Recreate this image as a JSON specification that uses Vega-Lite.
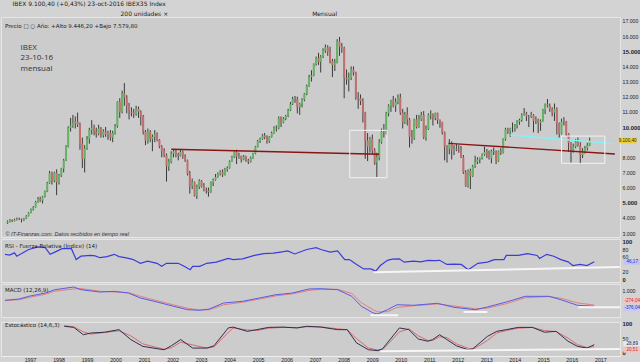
{
"$schema": "https://vega.github.io/schema/vega-lite/v6.json",
"background": "#d3d3d3",
"padding": 0,
"spacing": 0,
"title": {"text": "IBEX   9.100,40 (+0,43%)  23-oct-2016  IBEX35 Index", "subtitle": "\u200b\u2003\u2003\u2003\u2003\u2003\u2003\u2003\u2003\u2003\u2003\u2003\u2003\u2003\u2003\u2003\u2003\u2003\u2003200 unidades  \u00d7\u2003\u2003\u2003\u2003\u2003\u2003\u2003\u2003\u2003\u2003\u2003\u2003\u2003\u2003\u2003\u2003\u2003\u2003\u2003\u2003\u2003\u2003\u2003\u2003Mensual", "anchor": "start", "dx": 12, "fontSize": 6, "fontWeight": "normal", "color": "#222", "font": "DejaVu Sans", "subtitleFont": "DejaVu Sans", "subtitleFontSize": 6, "subtitleColor": "#222", "subtitlePadding": 4, "offset": 0},
"config": {
  "view": {"fill": "#cccccc", "stroke": "#e6e6e6", "strokeWidth": 1},
  "concat": {"spacing": 0},
  "axis": {"labelFont": "Liberation Sans", "labelFontSize": 5.5, "labelColor": "#222", "grid": false, "ticks": false, "domain": false, "labelPadding": 2, "labelOverlap": false, "tickCount": 60},
  "title": {"font": "DejaVu Sans"}
},
"datasets": {
"px": [
{"t":"1996-01-15","o":3650,"h":3830,"l":3600,"c":3750},{"t":"1996-02-15","o":3750,"h":3920,"l":3700,"c":3850},{"t":"1996-03-15","o":3850,"h":3900,"l":3720,"c":3800},{"t":"1996-04-15","o":3800,"h":3950,"l":3760,"c":3880},{"t":"1996-05-15","o":3880,"h":4020,"l":3830,"c":3950},{"t":"1996-06-15","o":3950,"h":4010,"l":3850,"c":3900},{"t":"1996-07-15","o":3900,"h":3960,"l":3700,"c":3850},{"t":"1996-08-15","o":3850,"h":4000,"l":3800,"c":3950},{"t":"1996-09-15","o":3950,"h":4180,"l":3920,"c":4120},{"t":"1996-10-15","o":4120,"h":4380,"l":4090,"c":4330},{"t":"1996-11-15","o":4330,"h":4620,"l":4300,"c":4560},{"t":"1996-12-15","o":4560,"h":4780,"l":4480,"c":4700},
{"t":"1997-01-15","o":4700,"h":5120,"l":4680,"c":5050},{"t":"1997-02-15","o":5050,"h":5380,"l":4990,"c":5250},{"t":"1997-03-15","o":5250,"h":5400,"l":5050,"c":5150},{"t":"1997-04-15","o":5150,"h":5450,"l":4950,"c":5400},{"t":"1997-05-15","o":5400,"h":5800,"l":5350,"c":5750},{"t":"1997-06-15","o":5750,"h":6380,"l":5700,"c":6300},{"t":"1997-07-15","o":6300,"h":7100,"l":6250,"c":6950},{"t":"1997-08-15","o":6950,"h":7050,"l":6200,"c":6450},{"t":"1997-09-15","o":6450,"h":7050,"l":6350,"c":6980},{"t":"1997-10-15","o":6980,"h":7200,"l":5500,"c":6350},{"t":"1997-11-15","o":6350,"h":6900,"l":6200,"c":6800},{"t":"1997-12-15","o":6800,"h":7300,"l":6700,"c":7250},
{"t":"1998-01-15","o":7250,"h":7900,"l":7000,"c":7800},{"t":"1998-02-15","o":7800,"h":8800,"l":7750,"c":8700},{"t":"1998-03-15","o":8700,"h":10050,"l":8650,"c":9950},{"t":"1998-04-15","o":9950,"h":10600,"l":9700,"c":10100},{"t":"1998-05-15","o":10100,"h":10800,"l":9950,"c":10250},{"t":"1998-06-15","o":10250,"h":10700,"l":9900,"c":10350},{"t":"1998-07-15","o":10350,"h":10950,"l":10000,"c":10150},{"t":"1998-08-15","o":10150,"h":10300,"l":8500,"c":8900},{"t":"1998-09-15","o":8900,"h":9300,"l":7300,"c":7900},{"t":"1998-10-15","o":7900,"h":8800,"l":7000,"c":8600},{"t":"1998-11-15","o":8600,"h":9400,"l":8500,"c":9200},{"t":"1998-12-15","o":9200,"h":9950,"l":8900,"c":9800},
{"t":"1999-01-15","o":9800,"h":10450,"l":9500,"c":9950},{"t":"1999-02-15","o":9950,"h":10150,"l":9450,"c":9700},{"t":"1999-03-15","o":9700,"h":9950,"l":9300,"c":9550},{"t":"1999-04-15","o":9550,"h":10150,"l":9450,"c":9900},{"t":"1999-05-15","o":9900,"h":10000,"l":9300,"c":9450},{"t":"1999-06-15","o":9450,"h":9850,"l":9300,"c":9700},{"t":"1999-07-15","o":9700,"h":10000,"l":9350,"c":9500},{"t":"1999-08-15","o":9500,"h":9750,"l":9150,"c":9600},{"t":"1999-09-15","o":9600,"h":9800,"l":9100,"c":9300},{"t":"1999-10-15","o":9300,"h":9750,"l":9000,"c":9600},{"t":"1999-11-15","o":9600,"h":10200,"l":9500,"c":10050},{"t":"1999-12-15","o":10050,"h":11700,"l":9950,"c":11650},
{"t":"2000-01-15","o":11650,"h":11900,"l":10600,"c":11000},{"t":"2000-02-15","o":11000,"h":12400,"l":10900,"c":12200},{"t":"2000-03-15","o":12200,"h":12900,"l":11400,"c":11950},{"t":"2000-04-15","o":11950,"h":12100,"l":10900,"c":11400},{"t":"2000-05-15","o":11400,"h":11600,"l":10500,"c":11000},{"t":"2000-06-15","o":11000,"h":11300,"l":10700,"c":10950},{"t":"2000-07-15","o":10950,"h":11200,"l":10600,"c":10850},{"t":"2000-08-15","o":10850,"h":11400,"l":10750,"c":11200},{"t":"2000-09-15","o":11200,"h":11350,"l":10600,"c":11000},{"t":"2000-10-15","o":11000,"h":11100,"l":10100,"c":10700},{"t":"2000-11-15","o":10700,"h":10800,"l":9500,"c":9700},{"t":"2000-12-15","o":9700,"h":9800,"l":8800,"c":9100},
{"t":"2001-01-15","o":9100,"h":9900,"l":8900,"c":9700},{"t":"2001-02-15","o":9700,"h":9800,"l":9000,"c":9200},{"t":"2001-03-15","o":9200,"h":9500,"l":8400,"c":9350},{"t":"2001-04-15","o":9350,"h":9800,"l":9000,"c":9500},{"t":"2001-05-15","o":9500,"h":9650,"l":9050,"c":9150},{"t":"2001-06-15","o":9150,"h":9200,"l":8600,"c":8700},{"t":"2001-07-15","o":8700,"h":8800,"l":8000,"c":8400},{"t":"2001-08-15","o":8400,"h":8600,"l":8000,"c":8150},{"t":"2001-09-15","o":8150,"h":8250,"l":6400,"c":7400},{"t":"2001-10-15","o":7400,"h":7900,"l":7100,"c":7700},{"t":"2001-11-15","o":7700,"h":8400,"l":7600,"c":8250},{"t":"2001-12-15","o":8250,"h":8500,"l":8000,"c":8400},
{"t":"2002-01-15","o":8400,"h":8550,"l":8000,"c":8200},{"t":"2002-02-15","o":8200,"h":8300,"l":7800,"c":8100},{"t":"2002-03-15","o":8100,"h":8500,"l":8050,"c":8350},{"t":"2002-04-15","o":8350,"h":8450,"l":7900,"c":8050},{"t":"2002-05-15","o":8050,"h":8200,"l":7700,"c":7800},{"t":"2002-06-15","o":7800,"h":7850,"l":6800,"c":6900},{"t":"2002-07-15","o":6900,"h":7100,"l":5600,"c":6100},{"t":"2002-08-15","o":6100,"h":6600,"l":5900,"c":6350},{"t":"2002-09-15","o":6350,"h":6400,"l":5400,"c":5450},{"t":"2002-10-15","o":5450,"h":6200,"l":5250,"c":6050},{"t":"2002-11-15","o":6050,"h":6550,"l":5900,"c":6450},{"t":"2002-12-15","o":6450,"h":6500,"l":6000,"c":6050},
{"t":"2003-01-15","o":6050,"h":6300,"l":5750,"c":5850},{"t":"2003-02-15","o":5850,"h":6000,"l":5600,"c":5800},{"t":"2003-03-15","o":5800,"h":6000,"l":5400,"c":5700},{"t":"2003-04-15","o":5700,"h":6400,"l":5650,"c":6350},{"t":"2003-05-15","o":6350,"h":6600,"l":6100,"c":6500},{"t":"2003-06-15","o":6500,"h":6900,"l":6450,"c":6700},{"t":"2003-07-15","o":6700,"h":7000,"l":6650,"c":6900},{"t":"2003-08-15","o":6900,"h":7150,"l":6800,"c":7050},{"t":"2003-09-15","o":7050,"h":7200,"l":6700,"c":6850},{"t":"2003-10-15","o":6850,"h":7300,"l":6800,"c":7200},{"t":"2003-11-15","o":7200,"h":7400,"l":7050,"c":7300},{"t":"2003-12-15","o":7300,"h":7800,"l":7250,"c":7750},
{"t":"2004-01-15","o":7750,"h":8100,"l":7700,"c":8000},{"t":"2004-02-15","o":8000,"h":8400,"l":7950,"c":8350},{"t":"2004-03-15","o":8350,"h":8500,"l":7550,"c":8050},{"t":"2004-04-15","o":8050,"h":8300,"l":7900,"c":8100},{"t":"2004-05-15","o":8100,"h":8100,"l":7650,"c":7850},{"t":"2004-06-15","o":7850,"h":8150,"l":7800,"c":8050},{"t":"2004-07-15","o":8050,"h":8100,"l":7700,"c":7800},{"t":"2004-08-15","o":7800,"h":7900,"l":7550,"c":7700},{"t":"2004-09-15","o":7700,"h":8050,"l":7650,"c":7950},{"t":"2004-10-15","o":7950,"h":8300,"l":7900,"c":8250},{"t":"2004-11-15","o":8250,"h":8750,"l":8200,"c":8700},{"t":"2004-12-15","o":8700,"h":9150,"l":8650,"c":9080},
{"t":"2005-01-15","o":9080,"h":9300,"l":8950,"c":9200},{"t":"2005-02-15","o":9200,"h":9550,"l":9150,"c":9450},{"t":"2005-03-15","o":9450,"h":9600,"l":9200,"c":9300},{"t":"2005-04-15","o":9300,"h":9450,"l":8900,"c":9050},{"t":"2005-05-15","o":9050,"h":9400,"l":8950,"c":9350},{"t":"2005-06-15","o":9350,"h":9700,"l":9300,"c":9600},{"t":"2005-07-15","o":9600,"h":10050,"l":9550,"c":9950},{"t":"2005-08-15","o":9950,"h":10100,"l":9700,"c":9900},{"t":"2005-09-15","o":9900,"h":10700,"l":9850,"c":10600},{"t":"2005-10-15","o":10600,"h":10700,"l":10000,"c":10300},{"t":"2005-11-15","o":10300,"h":10650,"l":10250,"c":10550},{"t":"2005-12-15","o":10550,"h":10800,"l":10450,"c":10730},
{"t":"2006-01-15","o":10730,"h":11200,"l":10650,"c":11100},{"t":"2006-02-15","o":11100,"h":11650,"l":11050,"c":11500},{"t":"2006-03-15","o":11500,"h":12000,"l":11450,"c":11850},{"t":"2006-04-15","o":11850,"h":12050,"l":11600,"c":11850},{"t":"2006-05-15","o":11850,"h":12000,"l":10900,"c":11300},{"t":"2006-06-15","o":11300,"h":11600,"l":10800,"c":11550},{"t":"2006-07-15","o":11550,"h":11900,"l":11300,"c":11800},{"t":"2006-08-15","o":11800,"h":12250,"l":11700,"c":12200},{"t":"2006-09-15","o":12200,"h":12800,"l":12100,"c":12700},{"t":"2006-10-15","o":12700,"h":13450,"l":12650,"c":13300},{"t":"2006-11-15","o":13300,"h":13750,"l":13000,"c":13400},{"t":"2006-12-15","o":13400,"h":14200,"l":13350,"c":14150},
{"t":"2007-01-15","o":14150,"h":14650,"l":14050,"c":14550},{"t":"2007-02-15","o":14550,"h":14900,"l":14100,"c":14300},{"t":"2007-03-15","o":14300,"h":14750,"l":13600,"c":14650},{"t":"2007-04-15","o":14650,"h":15200,"l":14550,"c":15050},{"t":"2007-05-15","o":15050,"h":15450,"l":14900,"c":15250},{"t":"2007-06-15","o":15250,"h":15400,"l":14700,"c":14950},{"t":"2007-07-15","o":14950,"h":15300,"l":14200,"c":14350},{"t":"2007-08-15","o":14350,"h":14500,"l":13300,"c":14100},{"t":"2007-09-15","o":14100,"h":14500,"l":13700,"c":14250},{"t":"2007-10-15","o":14250,"h":15800,"l":14200,"c":15650},{"t":"2007-11-15","o":15650,"h":15950,"l":14700,"c":15300},{"t":"2007-12-15","o":15300,"h":15550,"l":14900,"c":15180},
{"t":"2008-01-15","o":15180,"h":15300,"l":11900,"c":13250},{"t":"2008-02-15","o":13250,"h":13800,"l":12800,"c":13150},{"t":"2008-03-15","o":13150,"h":13600,"l":12350,"c":13250},{"t":"2008-04-15","o":13250,"h":14000,"l":13100,"c":13800},{"t":"2008-05-15","o":13800,"h":14000,"l":13400,"c":13600},{"t":"2008-06-15","o":13600,"h":13650,"l":11800,"c":11950},{"t":"2008-07-15","o":11950,"h":12300,"l":11200,"c":11900},{"t":"2008-08-15","o":11900,"h":12150,"l":11450,"c":11700},{"t":"2008-09-15","o":11700,"h":11900,"l":10300,"c":10950},{"t":"2008-10-15","o":10950,"h":11000,"l":7900,"c":9100},{"t":"2008-11-15","o":9100,"h":9600,"l":7750,"c":8700},{"t":"2008-12-15","o":8700,"h":9350,"l":8300,"c":9200},
{"t":"2009-01-15","o":9200,"h":9500,"l":8200,"c":8450},{"t":"2009-02-15","o":8450,"h":8600,"l":7500,"c":7650},{"t":"2009-03-15","o":7650,"h":8300,"l":6700,"c":8000},{"t":"2009-04-15","o":8000,"h":9200,"l":7800,"c":9000},{"t":"2009-05-15","o":9000,"h":9900,"l":8900,"c":9700},{"t":"2009-06-15","o":9700,"h":10200,"l":9300,"c":9800},{"t":"2009-07-15","o":9800,"h":11000,"l":9500,"c":10900},{"t":"2009-08-15","o":10900,"h":11500,"l":10700,"c":11400},{"t":"2009-09-15","o":11400,"h":11800,"l":11000,"c":11750},{"t":"2009-10-15","o":11750,"h":12050,"l":11300,"c":11400},{"t":"2009-11-15","o":11400,"h":11900,"l":11000,"c":11650},{"t":"2009-12-15","o":11650,"h":12150,"l":11500,"c":11950},
{"t":"2010-01-15","o":11950,"h":12200,"l":10800,"c":10950},{"t":"2010-02-15","o":10950,"h":11200,"l":9900,"c":10300},{"t":"2010-03-15","o":10300,"h":11000,"l":10200,"c":10850},{"t":"2010-04-15","o":10850,"h":11300,"l":10100,"c":10500},{"t":"2010-05-15","o":10500,"h":10600,"l":8650,"c":9350},{"t":"2010-06-15","o":9350,"h":9800,"l":8900,"c":9250},{"t":"2010-07-15","o":9250,"h":10550,"l":9150,"c":10500},{"t":"2010-08-15","o":10500,"h":10800,"l":9900,"c":10000},{"t":"2010-09-15","o":10000,"h":10800,"l":9950,"c":10500},{"t":"2010-10-15","o":10500,"h":11000,"l":10400,"c":10800},{"t":"2010-11-15","o":10800,"h":11050,"l":9200,"c":9300},{"t":"2010-12-15","o":9300,"h":10100,"l":9100,"c":9860},
{"t":"2011-01-15","o":9860,"h":10900,"l":9800,"c":10800},{"t":"2011-02-15","o":10800,"h":11100,"l":10500,"c":10850},{"t":"2011-03-15","o":10850,"h":10900,"l":10100,"c":10600},{"t":"2011-04-15","o":10600,"h":10950,"l":10450,"c":10900},{"t":"2011-05-15","o":10900,"h":10950,"l":10200,"c":10450},{"t":"2011-06-15","o":10450,"h":10500,"l":9950,"c":10350},{"t":"2011-07-15","o":10350,"h":10300,"l":9500,"c":9650},{"t":"2011-08-15","o":9650,"h":9700,"l":7800,"c":8700},{"t":"2011-09-15","o":8700,"h":8800,"l":7650,"c":8550},{"t":"2011-10-15","o":8550,"h":9200,"l":8200,"c":8950},{"t":"2011-11-15","o":8950,"h":9050,"l":7850,"c":8450},{"t":"2011-12-15","o":8450,"h":8800,"l":8150,"c":8560},
{"t":"2012-01-15","o":8560,"h":8900,"l":8400,"c":8500},{"t":"2012-02-15","o":8500,"h":8800,"l":8300,"c":8450},{"t":"2012-03-15","o":8450,"h":8750,"l":7950,"c":8000},{"t":"2012-04-15","o":8000,"h":8150,"l":6900,"c":7000},{"t":"2012-05-15","o":7000,"h":7150,"l":6050,"c":6100},{"t":"2012-06-15","o":6100,"h":7200,"l":6000,"c":7100},{"t":"2012-07-15","o":7100,"h":7250,"l":5900,"c":6750},{"t":"2012-08-15","o":6750,"h":7500,"l":6700,"c":7400},{"t":"2012-09-15","o":7400,"h":8100,"l":7300,"c":7700},{"t":"2012-10-15","o":7700,"h":8000,"l":7550,"c":7850},{"t":"2012-11-15","o":7850,"h":8000,"l":7600,"c":7950},{"t":"2012-12-15","o":7950,"h":8250,"l":7850,"c":8170},
{"t":"2013-01-15","o":8170,"h":8700,"l":8100,"c":8350},{"t":"2013-02-15","o":8350,"h":8550,"l":7950,"c":8250},{"t":"2013-03-15","o":8250,"h":8450,"l":7850,"c":7950},{"t":"2013-04-15","o":7950,"h":8500,"l":7600,"c":8400},{"t":"2013-05-15","o":8400,"h":8650,"l":8150,"c":8350},{"t":"2013-06-15","o":8350,"h":8450,"l":7550,"c":7760},{"t":"2013-07-15","o":7760,"h":8450,"l":7700,"c":8400},{"t":"2013-08-15","o":8400,"h":8600,"l":8150,"c":8300},{"t":"2013-09-15","o":8300,"h":9250,"l":8250,"c":9200},{"t":"2013-10-15","o":9200,"h":9950,"l":9100,"c":9850},{"t":"2013-11-15","o":9850,"h":9950,"l":9550,"c":9700},{"t":"2013-12-15","o":9700,"h":9950,"l":9350,"c":9900},
{"t":"2014-01-15","o":9900,"h":10300,"l":9650,"c":9900},{"t":"2014-02-15","o":9900,"h":10200,"l":9700,"c":10100},{"t":"2014-03-15","o":10100,"h":10450,"l":9900,"c":10350},{"t":"2014-04-15","o":10350,"h":10550,"l":10150,"c":10450},{"t":"2014-05-15","o":10450,"h":10900,"l":10350,"c":10800},{"t":"2014-06-15","o":10800,"h":11250,"l":10750,"c":10900},{"t":"2014-07-15","o":10900,"h":11000,"l":10400,"c":10700},{"t":"2014-08-15","o":10700,"h":10800,"l":10000,"c":10700},{"t":"2014-09-15","o":10700,"h":11000,"l":10600,"c":10800},{"t":"2014-10-15","o":10800,"h":10850,"l":9650,"c":10400},{"t":"2014-11-15","o":10400,"h":10700,"l":10200,"c":10500},{"t":"2014-12-15","o":10500,"h":10550,"l":9600,"c":10280},
{"t":"2015-01-15","o":10280,"h":10500,"l":9750,"c":10400},{"t":"2015-02-15","o":10400,"h":11200,"l":10350,"c":11150},{"t":"2015-03-15","o":11150,"h":11550,"l":10850,"c":11500},{"t":"2015-04-15","o":11500,"h":11850,"l":11300,"c":11400},{"t":"2015-05-15","o":11400,"h":11550,"l":11000,"c":11200},{"t":"2015-06-15","o":11200,"h":11300,"l":10700,"c":10950},{"t":"2015-07-15","o":10950,"h":11550,"l":10400,"c":11200},{"t":"2015-08-15","o":11200,"h":11300,"l":9500,"c":10250},{"t":"2015-09-15","o":10250,"h":10300,"l":9300,"c":9550},{"t":"2015-10-15","o":9550,"h":10550,"l":9500,"c":10350},{"t":"2015-11-15","o":10350,"h":10650,"l":10100,"c":10350},{"t":"2015-12-15","o":10350,"h":10400,"l":9400,"c":9550},
{"t":"2016-01-15","o":9550,"h":9600,"l":8350,"c":8950},{"t":"2016-02-15","o":8950,"h":9000,"l":7650,"c":8450},{"t":"2016-03-15","o":8450,"h":8900,"l":8300,"c":8700},{"t":"2016-04-15","o":8700,"h":9200,"l":8600,"c":9050},{"t":"2016-05-15","o":9050,"h":9300,"l":8700,"c":8750},{"t":"2016-06-15","o":8750,"h":9000,"l":7550,"c":8150},{"t":"2016-07-15","o":8150,"h":8600,"l":7950,"c":8400},{"t":"2016-08-15","o":8400,"h":8750,"l":8250,"c":8600},{"t":"2016-09-15","o":8600,"h":8950,"l":8450,"c":8800},{"t":"2016-10-15","o":8800,"h":9300,"l":8750,"c":9100}
],
"trend": [
{"id":"r1","t":"2001-11-15","v":8530},{"id":"r1","t":"2009-04-15","v":8196},
{"id":"r2","t":"2011-10-05","v":8922},{"id":"r2","t":"2017-09-08","v":8213},
{"id":"cy","t":"2013-12-15","v":9470},{"id":"cy","t":"2017-08-28","v":8900}
],
"boxes": [
{"t1":"2008-03-28","t2":"2009-07-25","v1":6650,"v2":9780},
{"t1":"2015-10-15","t2":"2017-05-01","v1":7600,"v2":9400}
],
"tags": [
{"id":"p","t":"2016-10-15","v":9100,"lab":"9.100,40"},
{"id":"r","t":"2016-10-15","v":46,"lab":"46,17"},
{"id":"ms","t":"2016-10-15","v":-274,"lab":"-274,04"},
{"id":"mm","t":"2016-10-15","v":-376,"lab":"-376,04"},
{"id":"sk","t":"2016-10-15","v":27,"lab":"28,89"},
{"id":"sd","t":"2016-10-15","v":20,"lab":"20,51"}
],
"rsi": [
{"t":"1996-02-15","v":66},{"t":"1996-04-15","v":64},{"t":"1996-06-15","v":70},{"t":"1996-07-15","v":61},{"t":"1996-09-15","v":68},{"t":"1996-12-15","v":79},{"t":"1997-04-15","v":86},{"t":"1997-07-15","v":84},{"t":"1997-09-15","v":66},{"t":"1997-11-15","v":72},{"t":"1998-02-15","v":81},{"t":"1998-06-15","v":81},{"t":"1998-08-15","v":52},{"t":"1998-10-15","v":61},{"t":"1999-02-15","v":63},{"t":"1999-04-15","v":62},{"t":"1999-06-15","v":57},{"t":"1999-09-15","v":60},{"t":"1999-12-15","v":66},{"t":"2000-02-15","v":60},{"t":"2000-04-15","v":58},{"t":"2000-06-15","v":55},{"t":"2000-08-15","v":52},{"t":"2000-11-15","v":42},{"t":"2001-02-15","v":48},{"t":"2001-06-15","v":42},{"t":"2001-08-15","v":34},{"t":"2001-10-15","v":42},{"t":"2002-03-15","v":42},{"t":"2002-06-15","v":32},{"t":"2002-08-15","v":25},{"t":"2002-09-15","v":34},{"t":"2002-12-15","v":34},{"t":"2003-03-15","v":42},{"t":"2003-07-15","v":45},{"t":"2003-12-15","v":55},{"t":"2004-02-15","v":52},{"t":"2004-06-15","v":54},{"t":"2004-11-15","v":63},{"t":"2005-03-15","v":68},{"t":"2005-07-15","v":69},{"t":"2005-10-15","v":72},{"t":"2006-01-15","v":75},{"t":"2006-04-15","v":67},{"t":"2006-09-15","v":79},{"t":"2007-01-15","v":84},{"t":"2007-03-15","v":79},{"t":"2007-07-15","v":72},{"t":"2007-10-15","v":75},{"t":"2008-01-15","v":52},{"t":"2008-03-15","v":52},{"t":"2008-06-15","v":39},{"t":"2008-09-15","v":27},{"t":"2008-12-15","v":27},{"t":"2009-02-15","v":21},{"t":"2009-04-15","v":36},{"t":"2009-07-15","v":50},{"t":"2009-09-15","v":53},{"t":"2009-12-15","v":54},{"t":"2010-02-15","v":45},{"t":"2010-06-15","v":48},{"t":"2010-09-15","v":46},{"t":"2010-12-15","v":50},{"t":"2011-03-15","v":49},{"t":"2011-05-15","v":50},{"t":"2011-08-15","v":39},{"t":"2011-11-15","v":40},{"t":"2012-02-15","v":39},{"t":"2012-05-15","v":25},{"t":"2012-09-15","v":42},{"t":"2013-01-15","v":45},{"t":"2013-04-15","v":52},{"t":"2013-08-15","v":52},{"t":"2013-09-15","v":63},{"t":"2014-02-15","v":63},{"t":"2014-06-15","v":68},{"t":"2014-10-15","v":63},{"t":"2014-11-15","v":55},{"t":"2015-02-15","v":66},{"t":"2015-05-15","v":61},{"t":"2015-08-15","v":52},{"t":"2015-11-15","v":46},{"t":"2016-01-15","v":36},{"t":"2016-04-15","v":39},{"t":"2016-07-15","v":36},{"t":"2016-10-15","v":46}
],
"macd": [
{"t":"1996-02-15","m":150,"s":120},{"t":"1996-08-15","m":265,"s":200},{"t":"1996-12-15","m":500,"s":400},{"t":"1997-07-15","m":790,"s":680},{"t":"1997-11-15","m":1085,"s":950},{"t":"1998-07-15","m":1320,"s":1150},{"t":"1998-10-15","m":1085,"s":1180},{"t":"1999-06-15","m":880,"s":950},{"t":"1999-12-15","m":940,"s":880},{"t":"2000-06-15","m":790,"s":830},{"t":"2000-11-15","m":350,"s":500},{"t":"2001-06-15","m":0,"s":120},{"t":"2002-01-15","m":-380,"s":-260},{"t":"2002-07-15","m":-680,"s":-560},{"t":"2002-12-15","m":-730,"s":-700},{"t":"2003-04-15","m":-620,"s":-690},{"t":"2003-10-15","m":-90,"s":-250},{"t":"2004-06-15","m":60,"s":-20},{"t":"2005-01-15","m":350,"s":250},{"t":"2005-08-15","m":640,"s":540},{"t":"2006-03-15","m":790,"s":720},{"t":"2006-10-15","m":1150,"s":1020},{"t":"2007-03-15","m":1170,"s":1120},{"t":"2007-10-15","m":1085,"s":1120},{"t":"2008-04-15","m":500,"s":750},{"t":"2008-08-15","m":-380,"s":-60},{"t":"2009-01-15","m":-970,"s":-700},{"t":"2009-03-15","m":-1060,"s":-880},{"t":"2009-07-15","m":-680,"s":-850},{"t":"2009-11-15","m":-240,"s":-480},{"t":"2010-06-15","m":-290,"s":-330},{"t":"2011-04-15","m":-115,"s":-170},{"t":"2011-11-15","m":-470,"s":-350},{"t":"2012-08-15","m":-680,"s":-600},{"t":"2013-01-15","m":-440,"s":-540},{"t":"2013-09-15","m":0,"s":-150},{"t":"2014-05-15","m":500,"s":380},{"t":"2015-03-15","m":500,"s":480},{"t":"2015-08-15","m":200,"s":330},{"t":"2016-03-15","m":-290,"s":-80},{"t":"2016-10-15","m":-376,"s":-274}
],
"stoch": [
{"t":"1998-03-15","k":92,"d":94},{"t":"1998-07-15","k":88,"d":90},{"t":"1998-11-15","k":62,"d":72},{"t":"1999-02-15","k":68,"d":64},{"t":"1999-08-15","k":71,"d":70},{"t":"2000-02-15","k":80,"d":76},{"t":"2000-07-15","k":45,"d":58},{"t":"2000-12-15","k":21,"d":30},{"t":"2001-06-15","k":13,"d":17},{"t":"2001-09-15","k":9,"d":11},{"t":"2001-12-15","k":23,"d":16},{"t":"2002-04-15","k":45,"d":36},{"t":"2002-09-15","k":15,"d":26},{"t":"2003-03-15","k":15,"d":15},{"t":"2003-06-15","k":23,"d":19},{"t":"2003-12-15","k":86,"d":70},{"t":"2004-02-15","k":89,"d":86},{"t":"2004-08-15","k":74,"d":79},{"t":"2004-12-15","k":80,"d":77},{"t":"2005-05-15","k":88,"d":85},{"t":"2005-11-15","k":89,"d":88},{"t":"2006-05-15","k":86,"d":87},{"t":"2006-09-15","k":92,"d":90},{"t":"2007-03-15","k":89,"d":90},{"t":"2007-10-15","k":80,"d":83},{"t":"2008-02-15","k":80,"d":80},{"t":"2008-06-15","k":33,"d":48},{"t":"2008-11-15","k":9,"d":15},{"t":"2009-03-15","k":6,"d":8},{"t":"2009-05-15","k":13,"d":9},{"t":"2009-12-15","k":86,"d":72},{"t":"2010-04-15","k":80,"d":83},{"t":"2010-08-15","k":47,"d":58},{"t":"2010-12-15","k":39,"d":42},{"t":"2011-02-15","k":45,"d":42},{"t":"2011-05-15","k":62,"d":55},{"t":"2011-08-15","k":45,"d":52},{"t":"2011-12-15","k":23,"d":30},{"t":"2012-05-15","k":9,"d":14},{"t":"2012-07-15","k":13,"d":10},{"t":"2013-01-15","k":56,"d":42},{"t":"2013-05-15","k":74,"d":68},{"t":"2013-09-15","k":80,"d":77},{"t":"2014-02-15","k":88,"d":85},{"t":"2014-08-15","k":88,"d":88},{"t":"2015-01-15","k":71,"d":77},{"t":"2015-06-15","k":74,"d":73},{"t":"2015-11-15","k":39,"d":50},{"t":"2016-03-15","k":21,"d":27},{"t":"2016-07-15","k":15,"d":17},{"t":"2016-10-15","k":27,"d":20}
],
"rsiw": [{"t":"2009-01-20","v":18},{"t":"2017-09-08","v":32}],
"macdw": [
{"id":"a","t":"2008-12-10","v":-1170},{"id":"a","t":"2009-12-01","v":-1170},
{"id":"b","t":"2012-03-15","v":-880},{"id":"b","t":"2013-01-15","v":-880},
{"id":"c","t":"2016-03-25","v":-470},{"id":"c","t":"2017-09-08","v":-470}
],
"stochw": [{"t":"2009-04-15","v":3.5},{"t":"2017-09-08","v":12}]
},
"vconcat": [
{
  "width": 619, "height": 220,
  "title": {"text": "Precio \u25a1 \u25cb   A\u00f1o: +Alto 9.446,20  +Bajo 7.579,80", "anchor": "start", "offset": -12, "dx": 4, "fontSize": 5.5, "fontWeight": "normal", "color": "#222"},
  "layer": [
    {
      "data": {"name": "px"},
      "mark": {"type": "rule", "color": "#3a3a3a", "strokeWidth": 1},
      "encoding": {
        "x": {"field": "t", "type": "temporal", "title": null,
              "scale": {"domain": [{"year":1995,"month":12,"date":26}, {"year":2017,"month":9,"date":10}]},
              "axis": {"orient": "bottom", "labels": false, "title": "\u00a9 IT-Finanzas.com. Datos recibidos en tiempo real", "titleFontStyle": "italic", "titleFontSize": 5.5, "titleFontWeight": "normal", "titleColor": "#333", "titleAnchor": "start", "titleAlign": "left", "titleBaseline": "bottom", "titleX": 4, "titleY": -1}},
        "y": {"field": "l", "type": "quantitative", "title": null,
              "scale": {"domain": [2736, 17264], "nice": false, "zero": false},
              "axis": {"orient": "right", "labelOverlap": false, "tickCount": 60, "values": [3000,4000,5000,6000,7000,8000,10000,11000,12000,13000,14000,15000,16000,17000],
                       "labelExpr": "replace(format(datum.value, ',d'), ',', '.')",
                       "labelFontWeight": {"condition": {"test": "datum.value % 5000 === 0", "value": "bold"}, "value": "normal"},
                       "labelFontSize": {"condition": {"test": "datum.value % 5000 === 0", "value": 5.9}, "value": 5.2}}},
        "y2": {"field": "h"}
      }
    },
    {
      "data": {"name": "px"},
      "mark": {"type": "bar", "size": 2},
      "encoding": {
        "x": {"field": "t", "type": "temporal", "title": null,
              "axis": {"orient": "top", "labels": false, "title": ["IBEX", "23-10-16", "mensual"], "titleFont": "Open Sans", "titleFontSize": 8, "titleFontWeight": "normal", "titleColor": "#333", "titleAngle": 0, "titleAlign": "left", "titleBaseline": "top", "titleX": 19, "titleY": 26, "titleLineHeight": 10.5}},
        "y": {"field": "o", "type": "quantitative", "title": null},
        "y2": {"field": "c"},
        "color": {"condition": {"test": "datum.c >= datum.o", "value": "#64b464"}, "value": "#c26e6e"}
      }
    },
    {
      "data": {"name": "trend"},
      "mark": {"type": "line"},
      "encoding": {
        "x": {"field": "t", "type": "temporal", "axis": null},
        "y": {"field": "v", "type": "quantitative", "title": null},
        "detail": {"field": "id"},
        "color": {"field": "id", "type": "nominal", "legend": null, "scale": {"domain": ["r1","r2","cy"], "range": ["#8a1414","#8a1414","#7ef4f8"]}},
        "strokeWidth": {"field": "id", "type": "nominal", "legend": null, "scale": {"domain": ["r1","r2","cy"], "range": [1.4, 1.4, 2]}}
      }
    },
    {
      "data": {"name": "boxes"},
      "mark": {"type": "rect", "filled": false, "stroke": "#f2f2f2", "strokeWidth": 1},
      "encoding": {
        "x": {"field": "t1", "type": "temporal", "axis": null},
        "x2": {"field": "t2"},
        "y": {"field": "v1", "type": "quantitative", "title": null},
        "y2": {"field": "v2"}
      }
    },
    {
      "data": {"name": "tags"},
      "transform": [{"filter": "datum.id === 'p'"}],
      "mark": {"type": "point", "shape": "M-1,-0.33H1V0.33H-1Z", "filled": true, "size": 324, "color": "#f0d23c", "opacity": 1, "xOffset": 38},
      "encoding": {"x": {"field": "t", "type": "temporal", "axis": null}, "y": {"field": "v", "type": "quantitative", "title": null}}
    },
    {
      "data": {"name": "tags"},
      "transform": [{"filter": "datum.id === 'p'"}],
      "mark": {"type": "text", "font": "Liberation Sans", "fontSize": 4.6, "color": "#222", "xOffset": 38, "align": "center", "baseline": "middle"},
      "encoding": {"x": {"field": "t", "type": "temporal", "axis": null}, "y": {"field": "v", "type": "quantitative", "title": null}, "text": {"field": "lab"}}
    }
  ],
  "resolve": {"axis": {"x": "independent"}}
},
{
  "width": 619, "height": 43,
  "title": {"text": "RSI - Fuerza Relativa (\u00cdndice) (14)", "anchor": "start", "offset": -11, "dx": 4, "fontSize": 5.5, "fontWeight": "normal", "color": "#222"},
  "layer": [
    {
      "data": {"name": "rsi"},
      "mark": {"type": "line", "color": "#3c3cdc", "strokeWidth": 1.2},
      "encoding": {
        "x": {"field": "t", "type": "temporal", "axis": null, "scale": {"domain": [{"year":1995,"month":12,"date":26}, {"year":2017,"month":9,"date":10}]}},
        "y": {"field": "v", "type": "quantitative", "title": null, "scale": {"domain": [-8, 107], "nice": false, "zero": false},
              "axis": {"orient": "right", "labelOverlap": false, "tickCount": 60, "values": [0, 20, 60, 80, 100],
                       "labelFontWeight": {"condition": {"test": "datum.value === 0 || datum.value === 100", "value": "bold"}, "value": "normal"},
                       "labelFontSize": {"condition": {"test": "datum.value === 0 || datum.value === 100", "value": 5.9}, "value": 5.2}}}
      }
    },
    {
      "data": {"name": "rsiw"},
      "mark": {"type": "line", "color": "#f6f6f6", "strokeWidth": 2},
      "encoding": {"x": {"field": "t", "type": "temporal"}, "y": {"field": "v", "type": "quantitative"}}
    },
    {
      "data": {"name": "tags"},
      "transform": [{"filter": "datum.id === 'r'"}],
      "mark": {"type": "point", "shape": "M-1,-0.33H1V0.33H-1Z", "filled": true, "size": 324, "color": "#c4c4f0", "opacity": 1, "xOffset": 38},
      "encoding": {"x": {"field": "t", "type": "temporal"}, "y": {"field": "v", "type": "quantitative"}}
    },
    {
      "data": {"name": "tags"},
      "transform": [{"filter": "datum.id === 'r'"}],
      "mark": {"type": "text", "font": "Liberation Sans", "fontSize": 4.6, "color": "#2a2ad0", "xOffset": 38, "align": "center", "baseline": "middle"},
      "encoding": {"x": {"field": "t", "type": "temporal"}, "y": {"field": "v", "type": "quantitative"}, "text": {"field": "lab"}}
    }
  ]
},
{
  "width": 619, "height": 33,
  "title": {"text": "MACD (12,26,9)", "anchor": "start", "offset": -9, "dx": 4, "fontSize": 5.5, "fontWeight": "normal", "color": "#222"},
  "layer": [
    {
      "data": {"name": "macd"},
      "mark": {"type": "line", "color": "#e08080", "strokeWidth": 1},
      "encoding": {
        "x": {"field": "t", "type": "temporal", "axis": null, "scale": {"domain": [{"year":1995,"month":12,"date":26}, {"year":2017,"month":9,"date":10}]}},
        "y": {"field": "s", "type": "quantitative", "title": null, "scale": {"domain": [-1323, 1587], "nice": false, "zero": false},
              "axis": {"orient": "right", "tickCount": 60, "values": [1000], "labelFontSize": 5.2, "labelExpr": "replace(format(datum.value, ',d'), ',', '.')"}}
      }
    },
    {
      "data": {"name": "macd"},
      "mark": {"type": "line", "color": "#5a5ae6", "strokeWidth": 1},
      "encoding": {"x": {"field": "t", "type": "temporal"}, "y": {"field": "m", "type": "quantitative"}}
    },
    {
      "data": {"name": "macdw"},
      "mark": {"type": "line", "color": "#f6f6f6", "strokeWidth": 2},
      "encoding": {"x": {"field": "t", "type": "temporal"}, "y": {"field": "v", "type": "quantitative"}, "detail": {"field": "id"}}
    },
    {
      "data": {"name": "tags"},
      "transform": [{"filter": "datum.id === 'ms'"}],
      "mark": {"type": "point", "shape": "M-1,-0.33H1V0.33H-1Z", "filled": true, "size": 324, "color": "#f0c4c4", "opacity": 1, "xOffset": 38, "yOffset": -4},
      "encoding": {"x": {"field": "t", "type": "temporal"}, "y": {"field": "v", "type": "quantitative"}}
    },
    {
      "data": {"name": "tags"},
      "transform": [{"filter": "datum.id === 'ms'"}],
      "mark": {"type": "text", "font": "Liberation Sans", "fontSize": 4.6, "color": "#c83030", "xOffset": 38, "yOffset": -4, "align": "center", "baseline": "middle"},
      "encoding": {"x": {"field": "t", "type": "temporal"}, "y": {"field": "v", "type": "quantitative"}, "text": {"field": "lab"}}
    },
    {
      "data": {"name": "tags"},
      "transform": [{"filter": "datum.id === 'mm'"}],
      "mark": {"type": "point", "shape": "M-1,-0.33H1V0.33H-1Z", "filled": true, "size": 324, "color": "#c8c8f2", "opacity": 1, "xOffset": 38, "yOffset": 2},
      "encoding": {"x": {"field": "t", "type": "temporal"}, "y": {"field": "v", "type": "quantitative"}}
    },
    {
      "data": {"name": "tags"},
      "transform": [{"filter": "datum.id === 'mm'"}],
      "mark": {"type": "text", "font": "Liberation Sans", "fontSize": 4.6, "color": "#2a2ad0", "xOffset": 38, "yOffset": 2, "align": "center", "baseline": "middle"},
      "encoding": {"x": {"field": "t", "type": "temporal"}, "y": {"field": "v", "type": "quantitative"}, "text": {"field": "lab"}}
    }
  ]
},
{
  "width": 619, "height": 34,
  "title": {"text": "Estoc\u00e1stico (14,6,3)", "anchor": "start", "offset": -8, "dx": 4, "fontSize": 5.5, "fontWeight": "normal", "color": "#222"},
  "layer": [
    {
      "data": {"name": "stoch"},
      "mark": {"type": "line", "color": "#d86c6c", "strokeWidth": 1},
      "encoding": {
        "x": {"field": "t", "type": "temporal", "title": null,
              "scale": {"domain": [{"year":1995,"month":12,"date":26}, {"year":2017,"month":9,"date":10}]},
              "axis": {"orient": "bottom", "format": "%Y", "domain": true, "domainColor": "#eeeeee", "labelPadding": 1, "labelFontSize": 5.3, "tickCount": 60,
                       "values": [{"year":1997},{"year":1998},{"year":1999},{"year":2000},{"year":2001},{"year":2002},{"year":2003},{"year":2004},{"year":2005},{"year":2006},{"year":2007},{"year":2008},{"year":2009},{"year":2010},{"year":2011},{"year":2012},{"year":2013},{"year":2014},{"year":2015},{"year":2016},{"year":2017}]}},
        "y": {"field": "d", "type": "quantitative", "title": null, "scale": {"domain": [-13, 107], "nice": false, "zero": false},
              "axis": {"orient": "right", "labelOverlap": false, "tickCount": 60, "values": [0, 50, 100],
                       "labelFontWeight": {"condition": {"test": "datum.value === 0 || datum.value === 100", "value": "bold"}, "value": "normal"},
                       "labelFontSize": {"condition": {"test": "datum.value === 0 || datum.value === 100", "value": 5.9}, "value": 5.2}}}
      }
    },
    {
      "data": {"name": "stoch"},
      "mark": {"type": "line", "color": "#2e2e52", "strokeWidth": 1},
      "encoding": {"x": {"field": "t", "type": "temporal"}, "y": {"field": "k", "type": "quantitative"}}
    },
    {
      "data": {"name": "stochw"},
      "mark": {"type": "line", "color": "#f6f6f6", "strokeWidth": 2},
      "encoding": {"x": {"field": "t", "type": "temporal"}, "y": {"field": "v", "type": "quantitative"}}
    },
    {
      "data": {"name": "tags"},
      "transform": [{"filter": "datum.id === 'sk'"}],
      "mark": {"type": "point", "shape": "M-1,-0.33H1V0.33H-1Z", "filled": true, "size": 324, "color": "#e6e6ec", "opacity": 1, "xOffset": 38, "yOffset": -1},
      "encoding": {"x": {"field": "t", "type": "temporal"}, "y": {"field": "v", "type": "quantitative"}}
    },
    {
      "data": {"name": "tags"},
      "transform": [{"filter": "datum.id === 'sk'"}],
      "mark": {"type": "text", "font": "Liberation Sans", "fontSize": 4.6, "color": "#222244", "xOffset": 38, "yOffset": -1, "align": "center", "baseline": "middle"},
      "encoding": {"x": {"field": "t", "type": "temporal"}, "y": {"field": "v", "type": "quantitative"}, "text": {"field": "lab"}}
    },
    {
      "data": {"name": "tags"},
      "transform": [{"filter": "datum.id === 'sd'"}],
      "mark": {"type": "point", "shape": "M-1,-0.33H1V0.33H-1Z", "filled": true, "size": 324, "color": "#f0c4c4", "opacity": 1, "xOffset": 38, "yOffset": 3},
      "encoding": {"x": {"field": "t", "type": "temporal"}, "y": {"field": "v", "type": "quantitative"}}
    },
    {
      "data": {"name": "tags"},
      "transform": [{"filter": "datum.id === 'sd'"}],
      "mark": {"type": "text", "font": "Liberation Sans", "fontSize": 4.6, "color": "#c83030", "xOffset": 38, "yOffset": 3, "align": "center", "baseline": "middle"},
      "encoding": {"x": {"field": "t", "type": "temporal"}, "y": {"field": "v", "type": "quantitative"}, "text": {"field": "lab"}}
    }
  ]
}
]
}
